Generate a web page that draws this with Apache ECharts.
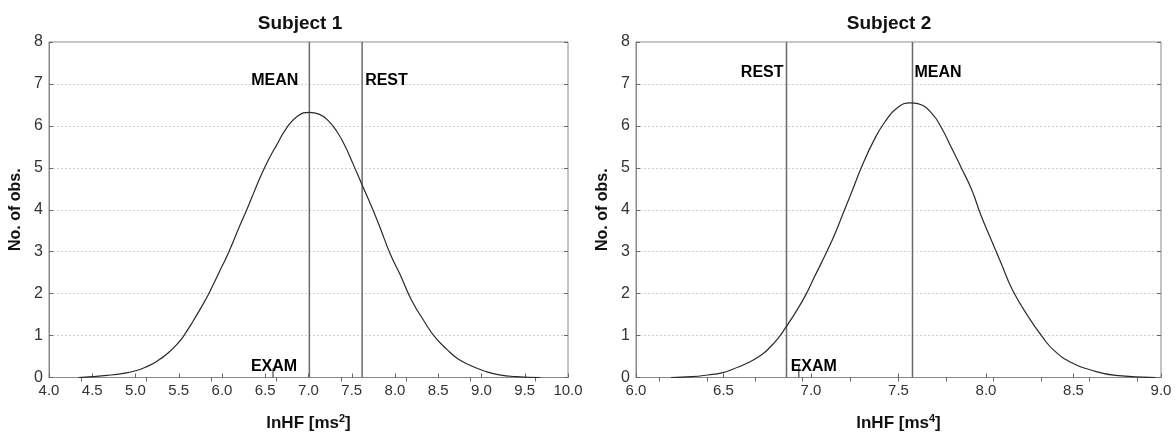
<!DOCTYPE html>
<html>
<head>
<meta charset="utf-8">
<title>Subject 1 / Subject 2</title>
<script src="https://cdn.jsdelivr.net/npm/echarts@6/dist/echarts.min.js"></script>
<style>
  html, body { margin: 0; padding: 0; background: #fff; }
  #chart { width: 1176px; height: 437px; }
</style>
</head>
<body>
<div id="chart"></div>
<script>
// Subject 1 fitted curve
const s1X = [4.34, 4.5, 4.67, 4.86, 5.0, 5.13, 5.25, 5.38, 5.5, 5.56, 5.67, 5.79, 5.86, 6.0, 6.08, 6.21, 6.29, 6.37, 6.46, 6.56, 6.62, 6.75, 6.88, 7.01, 7.12, 7.23, 7.33, 7.42, 7.52, 7.62, 7.73, 7.83, 7.94, 8.06, 8.19, 8.35, 8.46, 8.6, 8.73, 8.89, 9.04, 9.19, 9.4, 9.68]
const s1Y = [0, 0.02, 0.05, 0.1, 0.16, 0.26, 0.39, 0.59, 0.84, 1.0, 1.36, 1.78, 2.05, 2.65, 3.0, 3.64, 4.02, 4.42, 4.86, 5.28, 5.5, 5.96, 6.24, 6.32, 6.28, 6.12, 5.86, 5.53, 5.07, 4.59, 4.07, 3.56, 2.97, 2.45, 1.85, 1.3, 0.97, 0.67, 0.44, 0.27, 0.15, 0.07, 0.02, 0]
const s1Mean = 7.01
const s1Rest = 7.62
const s1Exam = 6.59

// Subject 2 fitted curve
const s2X = [6.2, 6.32, 6.41, 6.49, 6.56, 6.64, 6.72, 6.77, 6.82, 6.85, 6.91, 6.97, 7.02, 7.09, 7.14, 7.19, 7.24, 7.29, 7.36, 7.42, 7.49, 7.57, 7.61, 7.69, 7.75, 7.8, 7.86, 7.92, 7.97, 8.03, 8.09, 8.15, 8.24, 8.32, 8.39, 8.49, 8.59, 8.74, 8.97]
const s2Y = [0, 0.02, 0.06, 0.11, 0.21, 0.35, 0.55, 0.74, 0.98, 1.16, 1.54, 1.97, 2.4, 3.0, 3.46, 3.98, 4.5, 5.03, 5.66, 6.08, 6.42, 6.55, 6.53, 6.3, 5.92, 5.5, 4.99, 4.46, 3.88, 3.28, 2.69, 2.1, 1.46, 0.98, 0.64, 0.35, 0.19, 0.05, 0]
const s2Mean = 7.58
const s2Rest = 6.86
const s2Exam = 6.93

// top-edge tick marks (bin edges)
const s1TopTicks = [4.375, 5.125, 5.875, 6.625, 7.375, 8.125, 8.875, 9.625]
const s2TopTicks = [6.133, 6.406, 6.679, 6.952, 7.225, 7.498, 7.771, 8.044, 8.317, 8.59, 8.863]

const yTicks = [0, 1, 2, 3, 4, 5, 6, 7, 8]

const FONT = '"Liberation Sans", Arial, sans-serif'
const gridTop = 42
const gridHeight = 336

const chart = echarts.init(document.getElementById('chart'))

const bottomAxis = (idx, min, max, name) => ({
  type: 'value',
  gridIndex: idx,
  min: min,
  max: max,
  interval: 0.5,
  position: 'bottom',
  name: name,
  nameLocation: 'middle',
  nameGap: 36,
  nameTextStyle: {
    rich: {
      a: { fontFamily: FONT, fontSize: 17, fontWeight: 'bold', color: '#111' },
      s: { fontFamily: FONT, fontSize: 11, fontWeight: 'bold', color: '#111', padding: [0, 0, 9, 0] },
    },
  },
  axisLine: { show: true, lineStyle: { color: '#888', width: 1 } },
  axisTick: { show: true, inside: true, length: 4, lineStyle: { color: '#666' } },
  axisLabel: {
    color: '#333',
    fontFamily: FONT,
    fontSize: 15,
    margin: 6,
    formatter: (v) => v.toFixed(1),
  },
  splitLine: { show: false },
})

const topAxis = (idx, min, max, ticks) => ({
  type: 'value',
  gridIndex: idx,
  min: min,
  max: max,
  position: 'top',
  axisLine: { show: false },
  axisLabel: { show: false },
  axisTick: { show: true, inside: true, length: 4, customValues: ticks, lineStyle: { color: '#666' } },
  splitLine: { show: false },
})

const leftAxis = (idx) => ({
  type: 'value',
  gridIndex: idx,
  min: 0,
  max: 8,
  interval: 1,
  name: 'No. of obs.',
  nameLocation: 'middle',
  nameGap: 25,
  nameTextStyle: { fontFamily: FONT, fontSize: 16, fontWeight: 'bold', color: '#111' },
  axisLine: { show: true, lineStyle: { color: '#888' } },
  axisTick: { show: true, inside: true, length: 4, customValues: yTicks, lineStyle: { color: '#666' } },
  axisLabel: { color: '#333', fontFamily: FONT, fontSize: 16, margin: 6 },
  splitLine: { show: true, lineStyle: { color: '#cfcfcf', type: [2, 2], width: 1 } },
})

const rightAxis = (idx) => ({
  type: 'value',
  gridIndex: idx,
  min: 0,
  max: 8,
  interval: 1,
  position: 'right',
  axisLine: { show: false },
  axisTick: { show: true, inside: true, length: 4, lineStyle: { color: '#666' } },
  axisLabel: { show: false },
  splitLine: { show: false },
})

const zip = (xs, ys) => xs.map((x, i) => [x, ys[i]])

const curve = (idx, xs, ys) => ({
  type: 'line',
  xAxisIndex: idx * 2,
  yAxisIndex: idx * 2,
  data: zip(xs, ys),
  smooth: 0.5,
  showSymbol: false,
  lineStyle: { color: '#2a2a2a', width: 1.2 },
  silent: true,
  z: 3,
})

const vline = (idx, x, y0, y1) => ({
  type: 'line',
  xAxisIndex: idx * 2,
  yAxisIndex: idx * 2,
  data: [[x, y0], [x, y1]],
  showSymbol: false,
  lineStyle: { color: '#6a6a6a', width: 1.5 },
  silent: true,
  z: 2,
})

const tag = (idx, x, y, text, position, distance, offset) => ({
  type: 'scatter',
  xAxisIndex: idx * 2,
  yAxisIndex: idx * 2,
  data: [[x, y]],
  symbolSize: 0,
  silent: true,
  itemStyle: { opacity: 1, color: '#111' },
  label: {
    show: true,
    formatter: text,
    position: position,
    distance: distance,
    offset: offset || [0, 0],
    fontFamily: FONT,
    fontSize: 16,
    fontWeight: 'bold',
    color: '#000',
    textBorderWidth: 0,
  },
  z: 4,
})

const option = {
  animation: false,
  backgroundColor: '#fff',
  title: [
    { text: 'Subject 1', left: 295, top: 9, textAlign: 'center', textStyle: { fontFamily: FONT, fontSize: 19, fontWeight: 'bold', color: '#111' } },
    { text: 'Subject 2', left: 884, top: 9, textAlign: 'center', textStyle: { fontFamily: FONT, fontSize: 19, fontWeight: 'bold', color: '#111' } },
  ],
  grid: [
    { left: 49, top: gridTop, width: 519, height: gridHeight, show: true, borderColor: '#888', borderWidth: 1, containLabel: false },
    { left: 636, top: gridTop, width: 525, height: gridHeight, show: true, borderColor: '#888', borderWidth: 1, containLabel: false },
  ],
  xAxis: [
    bottomAxis(0, 4, 10, '{a|lnHF [ms}{s|2}{a|]}'),
    topAxis(0, 4, 10, s1TopTicks),
    bottomAxis(1, 6, 9, '{a|lnHF [ms}{s|4}{a|]}'),
    topAxis(1, 6, 9, s2TopTicks),
  ],
  yAxis: [leftAxis(0), rightAxis(0), leftAxis(1), rightAxis(1)],
  series: [
    curve(0, s1X, s1Y),
    vline(0, s1Mean, 0, 8),
    vline(0, s1Rest, 0, 8),
    vline(0, s1Exam, 0, 0.22),
    tag(0, s1Mean, 7.07, 'MEAN', 'left', 11),
    tag(0, s1Rest, 7.07, 'REST', 'right', 3),
    tag(0, s1Exam, 0.27, 'EXAM', 'inside', 0, [1, 0]),

    curve(1, s2X, s2Y),
    vline(1, s2Mean, 0, 8),
    vline(1, s2Rest, 0, 8),
    vline(1, s2Exam, 0, 0.28),
    tag(1, s2Mean, 7.28, 'MEAN', 'right', 2),
    tag(1, s2Rest, 7.28, 'REST', 'left', 3),
    tag(1, s2Exam, 0.27, 'EXAM', 'inside', 0, [15, 0]),
  ],
}

chart.setOption(option)
</script>
</body>
</html>
